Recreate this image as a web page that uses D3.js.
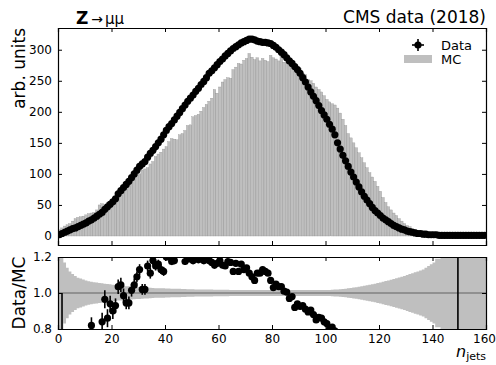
<!DOCTYPE html>
<html>
<head>
<meta charset="utf-8">
<script src="https://cdn.jsdelivr.net/npm/d3@7"></script>
<style>
  body { margin: 0; background: #fff; }
  text { font-family: "DejaVu Sans", sans-serif; fill: #000; }
  .axis path, .axis line { stroke: #000; }
  .axis text { font-size: 12px; }
</style>
</head>
<body>
<div id="chart"></div>
<script>
// n_jets bins, width 1, from 0 to 160
var binEdges = d3.range(0, 160);

// data counts per bin
var dataVals = [
  2, 4, 6, 8, 10, 12, 13, 15, 17, 19,
  21, 24, 26, 29, 32, 35, 38, 43, 47, 51,
  55, 60, 68, 73, 78, 83, 88, 94, 100, 106,
  112, 116, 120, 127, 133, 138, 144, 150, 156, 163,
  170, 176, 181, 187, 193, 199, 205, 211, 217, 222,
  227, 233, 238, 244, 249, 255, 262, 266, 271, 276,
  281, 285, 290, 294, 298, 302, 305, 308, 311, 313,
  315, 317, 317, 316, 314, 313, 312, 312, 311, 310,
  307, 304, 300, 296, 292, 287, 282, 278, 273, 268,
  262, 255, 248, 240, 232, 225, 218, 210, 202, 195,
  188, 180, 172, 163, 150, 140, 130, 121, 112, 103,
  95, 87, 79, 71, 64, 58, 52, 46, 41, 37,
  33, 29, 26, 23, 20, 17, 15, 13, 11, 10,
  8, 7, 6, 5, 4, 4, 3, 3, 2, 2,
  2, 2, 1, 1, 1, 1, 1, 1, 1, 1,
  1, 1, 1, 1, 1, 1, 1, 1, 1, 1
];

// MC prediction per bin
var mcVals = [
  10, 13, 16, 18, 20, 24, 28, 30, 31, 32,
  34, 36, 37, 38, 42, 50, 52, 50, 54, 56,
  58, 62, 66, 70, 74, 78, 82, 88, 93, 97,
  100, 106, 108, 110, 116, 120, 128, 132, 135, 140,
  144, 152, 157, 156, 155, 163, 165, 170, 178, 179,
  192, 194, 196, 201, 207, 212, 217, 222, 236, 230,
  240, 248, 252, 255, 254, 268, 272, 278, 277, 283,
  286, 294, 288, 284, 287, 282, 286, 283, 281, 291,
  287, 285, 282, 292, 280, 279, 282, 275, 272, 268,
  270, 262, 260, 252, 250, 246, 240, 236, 232, 226,
  220, 216, 213, 211, 206, 198, 188, 178, 165, 158,
  150, 142, 134, 126, 118, 110, 102, 95, 88, 80,
  72, 62, 54, 47, 42, 37, 33, 28, 24, 20,
  17, 15, 12, 10, 8, 6, 5, 4, 3, 2,
  2, 1, 1, 1, 0, 0, 0, 0, 0, 0,
  0, 0, 0, 0, 0, 0, 0, 0, 0, 0
];

// MC relative stat. uncertainty per bin (ratio band half width)
var mcUnc = [
  1, 1, 0.17, 0.14, 0.12, 0.105, 0.095, 0.085, 0.08, 0.075,
  0.07, 0.065, 0.062, 0.06, 0.058, 0.056, 0.054, 0.052, 0.05, 0.048,
  0.046, 0.044, 0.042, 0.041, 0.04, 0.038, 0.037, 0.036, 0.035, 0.034,
  0.033, 0.032, 0.031, 0.03, 0.029, 0.028, 0.027, 0.027, 0.026, 0.026,
  0.025, 0.025, 0.024, 0.024, 0.023, 0.023, 0.022, 0.022, 0.021, 0.021,
  0.021, 0.02, 0.02, 0.02, 0.019, 0.019, 0.019, 0.019, 0.018, 0.018,
  0.018, 0.018, 0.018, 0.018, 0.017, 0.017, 0.017, 0.017, 0.017, 0.017,
  0.017, 0.017, 0.017, 0.017, 0.017, 0.017, 0.017, 0.017, 0.017, 0.017,
  0.016, 0.016, 0.016, 0.016, 0.016, 0.016, 0.016, 0.016, 0.016, 0.016,
  0.016, 0.016, 0.016, 0.016, 0.016, 0.016, 0.016, 0.016, 0.016, 0.016,
  0.017, 0.017, 0.018, 0.019, 0.02, 0.021, 0.022, 0.024, 0.026, 0.028,
  0.03, 0.032, 0.035, 0.037, 0.04, 0.043, 0.046, 0.049, 0.052, 0.055,
  0.058, 0.062, 0.066, 0.07, 0.074, 0.078, 0.082, 0.086, 0.09, 0.095,
  0.1, 0.105, 0.11, 0.115, 0.12, 0.125, 0.13, 0.14, 0.15, 0.16,
  0.17, 0.19, 0.19, 1, 1, 1, 1, 1, 1, 1,
  1, 1, 1, 1, 1, 1, 1, 1, 1, 1
];

// Data/MC ratio points (only those inside the panel), with errors
var ratioBins = [1, 12, 16, 17, 18, 19, 20, 21, 22, 23, 24, 25, 26, 27, 28, 29,
  30, 31, 32, 33, 34, 35, 36, 37, 38, 39, 40, 41, 42, 43, 44, 45, 46, 47, 48, 49,
  50, 51, 52, 53, 54, 55, 56, 57, 58, 59, 60, 61, 62, 63, 64, 65, 66, 67, 68, 69,
  70, 71, 72, 73, 74, 75, 76, 77, 78, 79, 80, 81, 82, 83, 84, 85, 86, 87, 88, 89,
  90, 91, 92, 93, 94, 95, 96, 97, 98, 99, 100, 101, 102, 103, 149];
var ratioVals = [0.6, 0.82, 0.84, 0.965, 0.86, 0.94, 0.9, 0.93, 1.035, 1.045, 0.985, 0.945, 0.945, 1.015, 1.045, 1.09,
  1.13, 1.02, 1.02, 1.15, 1.11, 1.18, 1.15, 1.16, 1.13, 1.12, 1.2, 1.2, 1.175, 1.18, 1.26, 1.27, 1.26, 1.175, 1.19, 1.19,
  1.18, 1.21, 1.185, 1.2, 1.18, 1.19, 1.18, 1.17, 1.155, 1.165, 1.18, 1.155, 1.15, 1.175, 1.17, 1.12, 1.165, 1.12, 1.16, 1.13,
  1.14, 1.11, 1.09, 1.07, 1.11, 1.11, 1.13, 1.12, 1.11, 1.07, 1.03, 1.05, 1.035, 1.035, 1.01, 1.005, 0.97, 0.98, 0.92, 0.94,
  0.925, 0.93, 0.91, 0.895, 0.905, 0.88, 0.85, 0.865, 0.86, 0.84, 0.83, 0.8, 0.81, 0.79, 2.0];
var ratioErrs = [0.4, 0.045, 0.05, 0.05, 0.05, 0.045, 0.045, 0.04, 0.04, 0.04, 0.04, 0.035, 0.035, 0.035, 0.035, 0.03,
  0.03, 0.03, 0.03, 0.03, 0.03, 0.025, 0.025, 0.025, 0.025, 0.025, 0.02, 0.02, 0.02, 0.02, 0.02, 0.02, 0.02, 0.02, 0.02, 0.02,
  0.02, 0.02, 0.02, 0.02, 0.02, 0.02, 0.02, 0.02, 0.02, 0.02, 0.02, 0.015, 0.015, 0.015, 0.015, 0.015, 0.015, 0.015, 0.015, 0.015,
  0.015, 0.015, 0.015, 0.015, 0.015, 0.015, 0.015, 0.015, 0.015, 0.015, 0.015, 0.015, 0.015, 0.015, 0.015, 0.015, 0.015, 0.015, 0.015, 0.015,
  0.015, 0.015, 0.015, 0.015, 0.015, 0.015, 0.015, 0.015, 0.015, 0.015, 0.015, 0.015, 0.015, 0.015, 1.5];

var topTicks = [0, 50, 100, 150, 200, 250, 300];
var ratioTicks = [0.8, 1.0, 1.2];
var xTicks = [0, 20, 40, 60, 80, 100, 120, 140, 160];

var W = 496, H = 365;
var left = 58, right = 486;
var top1 = 28, bot1 = 245, top2 = 257, bot2 = 329;
var barColor = "#bfbfbf";

var svg = d3.select("#chart").append("svg")
    .attr("width", W)
    .attr("height", H);

var x = d3.scaleLinear().domain([0, 160]).range([left, right]);
var y = d3.scaleLinear().domain([-14.5, 335]).range([bot1, top1]);
var yr = d3.scaleLinear().domain([0.8, 1.2]).range([bot2, top2]);

var defs = svg.append("defs");
defs.append("clipPath").attr("id", "clipTop").append("rect")
  .attr("x", left).attr("y", top1).attr("width", right - left).attr("height", bot1 - top1);
defs.append("clipPath").attr("id", "clipBot").append("rect")
  .attr("x", left).attr("y", top2).attr("width", right - left).attr("height", bot2 - top2);

// ---- top panel
var gTop = svg.append("g").attr("clip-path", "url(#clipTop)");

gTop.selectAll("rect.mc")
  .data(binEdges)
  .enter().append("rect")
  .attr("class", "mc")
  .attr("x", function (d) { return x(d); })
  .attr("width", function (d) { return x(d + 1) - x(d); })
  .attr("y", function (d) { return y(mcVals[d]); })
  .attr("height", function (d) { return y(0) - y(mcVals[d]); })
  .style("fill", barColor)
  .style("stroke", "#8a8a8a")
  .style("stroke-width", 0.3);

gTop.selectAll("circle.data")
  .data(binEdges)
  .enter().append("circle")
  .attr("class", "data")
  .attr("cx", function (d) { return x(d + 0.5); })
  .attr("cy", function (d) { return y(dataVals[d]); })
  .attr("r", 3.6)
  .style("fill", "#000");

// axes top panel
svg.append("g").attr("class", "axis")
  .attr("transform", "translate(" + left + ",0)")
  .call(d3.axisLeft(y).tickValues(topTicks).tickSize(-4).tickPadding(6));
svg.append("g").attr("class", "axis")
  .attr("transform", "translate(" + right + ",0)")
  .call(d3.axisRight(y).tickValues(topTicks).tickSize(-4).tickFormat(""));
svg.append("g").attr("class", "axis")
  .attr("transform", "translate(0," + top1 + ")")
  .call(d3.axisTop(x).tickValues(xTicks).tickSize(-4).tickFormat(""));
svg.append("g").attr("class", "axis")
  .attr("transform", "translate(0," + bot1 + ")")
  .call(d3.axisBottom(x).tickValues(xTicks).tickSize(-4).tickFormat(""));

// ---- ratio panel
var gBot = svg.append("g").attr("clip-path", "url(#clipBot)");

var band = d3.area()
  .curve(d3.curveStepAfter)
  .x(function (d) { return x(d); })
  .y0(function (d) { return yr(1 - mcUnc[Math.min(d, 159)]); })
  .y1(function (d) { return yr(1 + mcUnc[Math.min(d, 159)]); });

gBot.append("path")
  .datum(binEdges.concat([160]))
  .attr("d", band)
  .style("fill", barColor);

gBot.append("line")
  .attr("x1", x(0)).attr("x2", x(160))
  .attr("y1", yr(1)).attr("y2", yr(1))
  .style("stroke", "#808080")
  .style("stroke-width", 1.5);

var rp = gBot.selectAll("g.rp")
  .data(ratioBins)
  .enter().append("g").attr("class", "rp");

rp.append("line")
  .attr("x1", function (d) { return x(d + 0.5); })
  .attr("x2", function (d) { return x(d + 0.5); })
  .attr("y1", function (d, i) { return yr(ratioVals[i] - ratioErrs[i]); })
  .attr("y2", function (d, i) { return yr(ratioVals[i] + ratioErrs[i]); })
  .style("stroke", "#000")
  .style("stroke-width", 1.6);

rp.append("circle")
  .attr("cx", function (d) { return x(d + 0.5); })
  .attr("cy", function (d, i) { return yr(ratioVals[i]); })
  .attr("r", 3.6)
  .style("fill", "#000");

svg.append("g").attr("class", "axis")
  .attr("transform", "translate(" + left + ",0)")
  .call(d3.axisLeft(yr).tickValues(ratioTicks).tickSize(-4).tickPadding(6).tickFormat(d3.format(".1f")));
svg.append("g").attr("class", "axis")
  .attr("transform", "translate(" + right + ",0)")
  .call(d3.axisRight(yr).tickValues(ratioTicks).tickSize(-4).tickFormat(""));
svg.append("g").attr("class", "axis")
  .attr("transform", "translate(0," + top2 + ")")
  .call(d3.axisTop(x).tickValues(xTicks).tickSize(-4).tickFormat(""));
var xAx = svg.append("g").attr("class", "axis")
  .attr("transform", "translate(0," + bot2 + ")")
  .call(d3.axisBottom(x).tickValues(xTicks).tickSize(-4).tickPadding(5));
// keep the last label inside the window
xAx.selectAll(".tick text").filter(function (d) { return d === 160; }).attr("dx", -2);

svg.selectAll(".axis path").style("stroke-width", 1.2);

// ---- labels
var title = svg.append("text").attr("x", 76).attr("y", 24);
title.append("tspan").style("font-weight", "bold").style("font-size", "17px").text("Z");
title.append("tspan").style("font-size", "14px").attr("dx", 3).text("\u2192");
title.append("tspan").style("font-size", "15px").attr("dx", 2).text("\u03bc\u03bc");

svg.append("text")
  .attr("x", right).attr("y", 23)
  .attr("text-anchor", "end")
  .style("font-size", "17px")
  .text("CMS data (2018)");

svg.append("text")
  .attr("transform", "translate(25," + top1 + ") rotate(-90)")
  .attr("text-anchor", "end")
  .style("font-size", "17px")
  .text("arb. units");

svg.append("text")
  .attr("transform", "translate(25," + ((top2 + bot2) / 2) + ") rotate(-90)")
  .attr("text-anchor", "middle")
  .style("font-size", "17px")
  .text("Data/MC");

var xl = svg.append("text").attr("x", right).attr("y", 357).attr("text-anchor", "end");
xl.append("tspan").style("font-style", "italic").style("font-size", "16px").text("n");
xl.append("tspan").style("font-size", "11px").attr("dy", 3).text("jets");

// legend
var lg = svg.append("g");
lg.append("line").attr("x1", 412).attr("x2", 424).attr("y1", 45).attr("y2", 45)
  .style("stroke", "#000").style("stroke-width", 1.6);
lg.append("line").attr("x1", 418).attr("x2", 418).attr("y1", 39).attr("y2", 51)
  .style("stroke", "#000").style("stroke-width", 1.6);
lg.append("circle").attr("cx", 418).attr("cy", 45).attr("r", 3.6).style("fill", "#000");
lg.append("rect").attr("x", 404).attr("y", 55).attr("width", 28).attr("height", 8).style("fill", barColor);
lg.append("text").attr("x", 441).attr("y", 50).style("font-size", "13px").text("Data");
lg.append("text").attr("x", 441).attr("y", 64).style("font-size", "13px").text("MC");
</script>
</body>
</html>
